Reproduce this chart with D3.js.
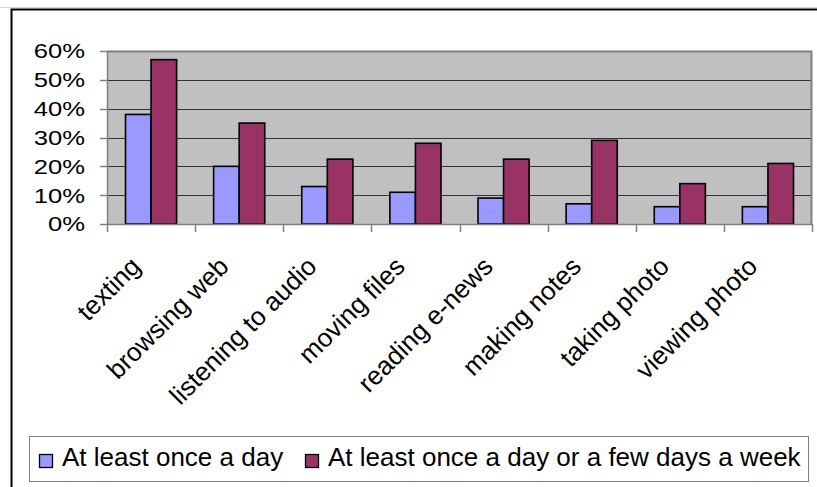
<!DOCTYPE html>
<html>
<head>
<meta charset="utf-8">
<script src="https://cdn.jsdelivr.net/npm/d3@7"></script>
<style>
  html, body { margin: 0; padding: 0; background: #fff; }
  svg { display: block; font-family: "Liberation Sans", Arial, sans-serif; }
</style>
</head>
<body>
<svg id="chart" width="817" height="487"></svg>
<script>
const categories = ["texting", "browsing web", "listening to audio", "moving files", "reading e-news", "making notes", "taking photo", "viewing photo"];
const seriesNames = ["At least once a day", "At least once a day or a few days a week"];
const dailyValues = [0.38, 0.20, 0.13, 0.11, 0.09, 0.07, 0.06, 0.06];
const weeklyValues = [0.57, 0.35, 0.225, 0.28, 0.225, 0.29, 0.14, 0.21];
const yTicks = [0, 0.1, 0.2, 0.3, 0.4, 0.5, 0.6];
const colors = ["#9999FF", "#993366"];

const svg = d3.select("#chart");
const W = 817, H = 487;

// outer chart frame
svg.append("line").attr("x1", 0).attr("x2", W).attr("y1", 7.5).attr("y2", 7.5)
  .attr("stroke", "#d8d8d8").attr("stroke-width", 1);
svg.append("rect").attr("x", 11.5).attr("y", 9.5).attr("width", W + 20).attr("height", H + 20)
  .attr("fill", "#fff").attr("stroke", "#000").attr("stroke-width", 2);

const plot = { left: 107, right: 812, top: 51, bottom: 224 };

const y = d3.scaleLinear().domain([0, 0.6]).range([plot.bottom, plot.top]);
const x0 = d3.scaleBand().domain(categories).range([plot.left, plot.right]).padding(0);
const bw = x0.bandwidth();
const x1 = d3.scaleBand().domain([0, 1]).range([bw * 0.21, bw * 0.79]).padding(0);

// plot area
svg.append("rect").attr("x", plot.left).attr("y", plot.top)
  .attr("width", plot.right - plot.left).attr("height", plot.bottom - plot.top)
  .attr("fill", "#C0C0C0");

// gridlines
svg.append("g").selectAll("line").data(yTicks.filter(d => d > 0)).join("line")
  .attr("x1", plot.left).attr("x2", plot.right)
  .attr("y1", d => Math.round(y(d)) + 0.5).attr("y2", d => Math.round(y(d)) + 0.5)
  .attr("stroke", "#333").attr("stroke-width", 1);

// plot border (top & right gray)
svg.append("path")
  .attr("d", `M${plot.left},${plot.top + 0.5}H${plot.right - 0.5}V${plot.bottom}`)
  .attr("fill", "none").attr("stroke", "#808080").attr("stroke-width", 2);

// bars
const rows = categories.map((c, i) => ({ c, vals: [dailyValues[i], weeklyValues[i]] }));
const groups = svg.append("g").selectAll("g").data(rows).join("g")
  .attr("transform", d => `translate(${x0(d.c)},0)`);
groups.selectAll("rect").data(d => d.vals.map((v, k) => ({ v, k }))).join("rect")
  .attr("x", d => x1(d.k))
  .attr("y", d => y(d.v))
  .attr("width", x1.bandwidth())
  .attr("height", d => y(0) - y(d.v))
  .attr("fill", d => colors[d.k])
  .attr("stroke", "#000").attr("stroke-width", 1.6);

// y axis
const yAxis = svg.append("g");
yAxis.append("line").attr("x1", plot.left + 0.5).attr("x2", plot.left + 0.5)
  .attr("y1", plot.top).attr("y2", plot.bottom + 1).attr("stroke", "#808080").attr("stroke-width", 1.5);
yAxis.selectAll("line.tick").data(yTicks).join("line").attr("class", "tick")
  .attr("x1", plot.left - 7).attr("x2", plot.left)
  .attr("y1", d => Math.round(y(d)) + 0.5).attr("y2", d => Math.round(y(d)) + 0.5)
  .attr("stroke", "#808080").attr("stroke-width", 1.5);
yAxis.selectAll("text").data(yTicks).join("text")
  .attr("transform", d => `translate(85,${y(d)}) scale(1.25,1)`)
  .attr("text-anchor", "end").attr("dy", "0.36em")
  .attr("font-size", 20.5).attr("fill", "#000")
  .text(d => d3.format(".0%")(d));

// x axis
const xAxis = svg.append("g");
xAxis.append("line").attr("x1", plot.left).attr("x2", plot.right)
  .attr("y1", plot.bottom + 0.5).attr("y2", plot.bottom + 0.5)
  .attr("stroke", "#808080").attr("stroke-width", 1.5);
const edges = categories.map(c => x0(c)).concat([plot.right]);
xAxis.selectAll("line.tick").data(edges).join("line").attr("class", "tick")
  .attr("x1", d => Math.round(d) + 0.5).attr("x2", d => Math.round(d) + 0.5)
  .attr("y1", plot.bottom).attr("y2", plot.bottom + 8)
  .attr("stroke", "#808080").attr("stroke-width", 1.5);
xAxis.selectAll("text").data(categories).join("text")
  .attr("transform", d => `translate(${x0(d) + bw / 2 - 9},${plot.bottom + 44}) rotate(-45)`)
  .attr("text-anchor", "end")
  .attr("font-size", 26).attr("fill", "#000")
  .text(d => d);

// legend
const legend = svg.append("g");
legend.append("rect").attr("x", 29.5).attr("y", 436.5).attr("width", 779).attr("height", 45)
  .attr("fill", "#fff").attr("stroke", "#808080").attr("stroke-width", 1);
const legendPos = [{ sx: 39, tx: 62 }, { sx: 305, tx: 328 }];
const items = legend.selectAll("g").data(seriesNames).join("g");
items.append("rect")
  .attr("x", (d, i) => legendPos[i].sx + 0.5).attr("y", 454.5)
  .attr("width", 13).attr("height", 13)
  .attr("fill", (d, i) => colors[i]).attr("stroke", "#000").attr("stroke-width", 1.3);
items.append("text")
  .attr("x", (d, i) => legendPos[i].tx).attr("y", 466)
  .attr("font-size", 26).attr("fill", "#000")
  .text(d => d);
</script>
</body>
</html>
